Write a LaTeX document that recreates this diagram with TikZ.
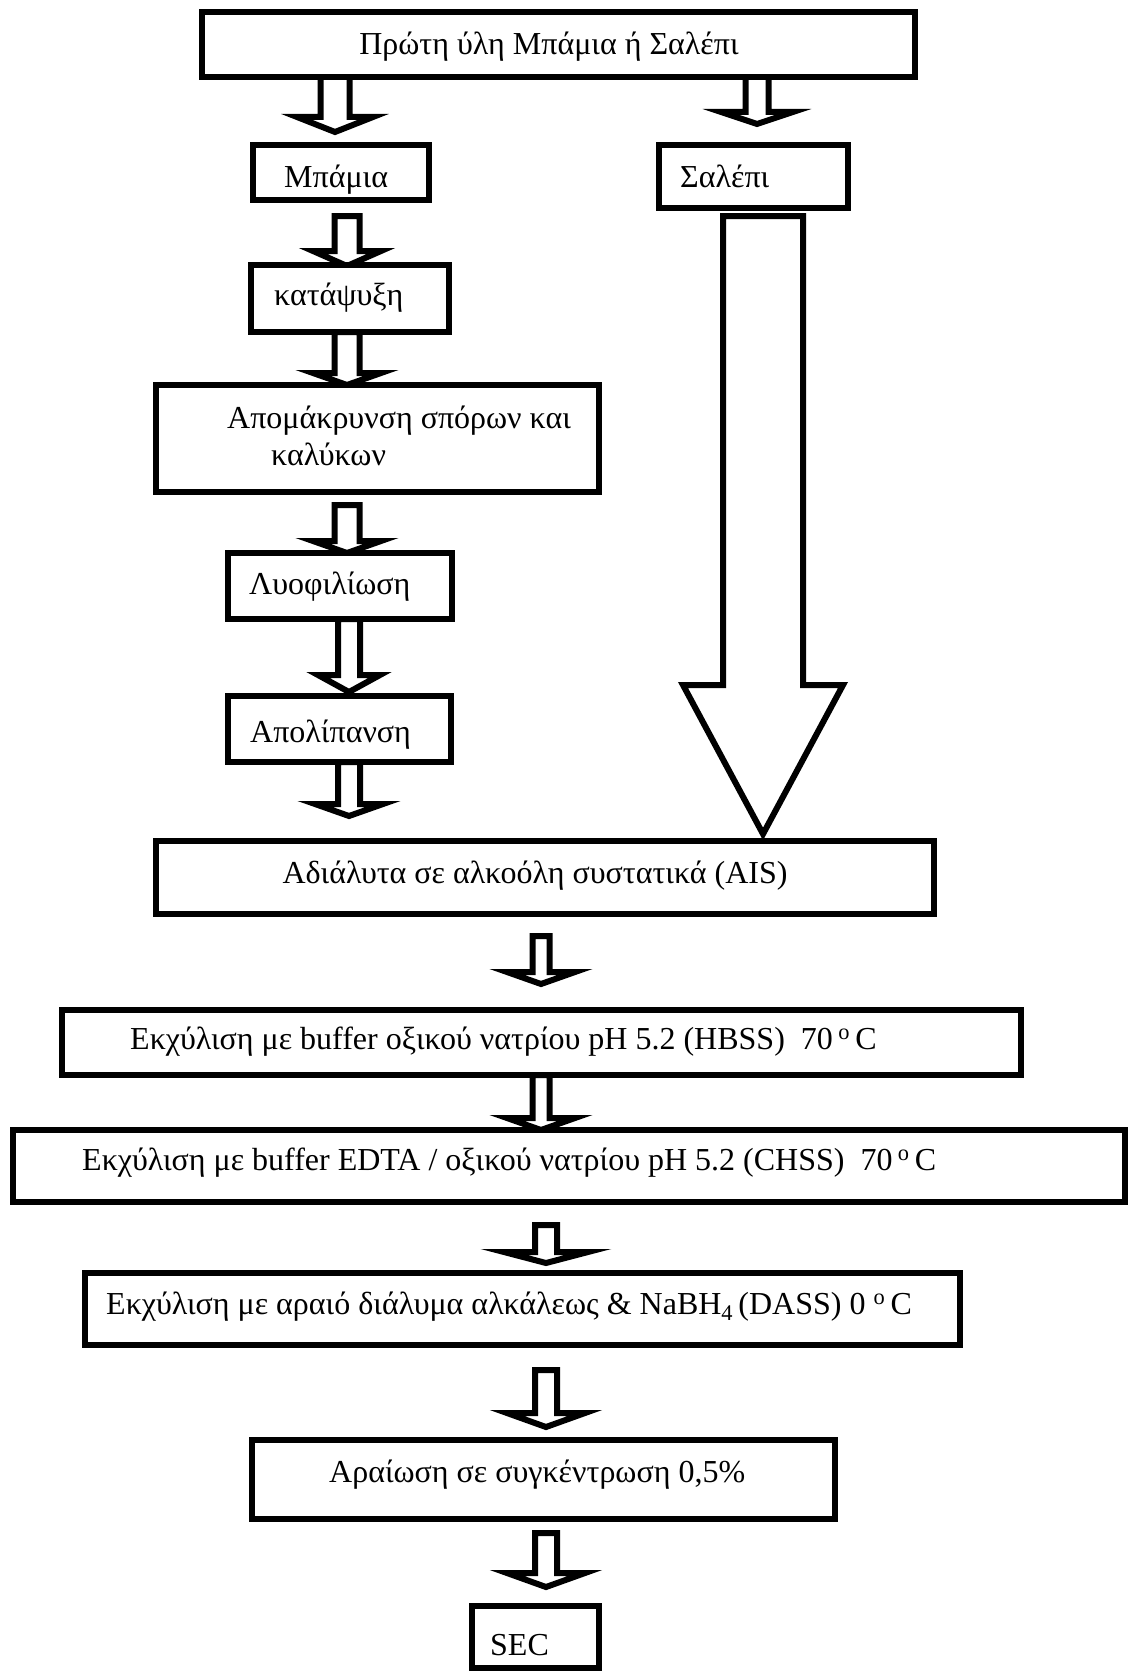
\documentclass[tikz,border=0pt]{standalone}
\usepackage{fontspec}
\setmainfont{Liberation Serif}
\usetikzlibrary{calc}
\tikzset{
  box/.style={draw, line width=6pt, rectangle, inner sep=0pt, fill=white},
  lbl/.style={inner sep=0pt, font=\fontsize{32}{37}\selectfont, anchor=base west},
  lblc/.style={inner sep=0pt, font=\fontsize{32}{37}\selectfont, anchor=base},
  barrow/.style={draw, line width=6pt, fill=white, line join=miter},
}
% #1 top coordinate, #2 tip coordinate, #3 shaft half width, #4 head half width, #5 head length
\newcommand\blockarrow[5]{%
  \draw[barrow] ($(#1)+(-#3,0)$) -- ($(#1)+(#3,0)$) -- ($(#2)+(#3,-#5)$) -- ($(#2)+(#4,-#5)$)
    -- (#2) -- ($(#2)+(-#4,-#5)$) -- ($(#2)+(-#3,-#5)$) -- cycle;}
\begin{document}
\begin{tikzpicture}[x=1pt,y=-1pt]
\fill[white] (0,0) rectangle (1128,1672);
\useasboundingbox (0,0) rectangle (1128,1672);

% arrow end points
\coordinate (a1t) at (335,77);   \coordinate (a1p) at (335,132);
\coordinate (a2t) at (757,77);   \coordinate (a2p) at (757,124);
\coordinate (a3t) at (347,216);  \coordinate (a3p) at (347,266);
\coordinate (a4t) at (347,332);  \coordinate (a4p) at (347,385);
\coordinate (a5t) at (347,505);  \coordinate (a5p) at (347,553);
\coordinate (a6t) at (349,619);  \coordinate (a6p) at (349,692);
\coordinate (a7t) at (349,762);  \coordinate (a7p) at (349,816);
\coordinate (a8t) at (763,216);  \coordinate (a8p) at (763,834);
\coordinate (a9t) at (541,936);  \coordinate (a9p) at (541,984);
\coordinate (a10t) at (541,1075); \coordinate (a10p) at (541,1130);
\coordinate (a11t) at (546,1225); \coordinate (a11p) at (546,1263);
\coordinate (a12t) at (546,1370); \coordinate (a12p) at (546,1427);
\coordinate (a13t) at (546,1533); \coordinate (a13p) at (546,1587);

% block arrows
\blockarrow{a1t}{a1p}{14.5}{38}{15}
\blockarrow{a2t}{a2p}{11.5}{36}{12}
\blockarrow{a3t}{a3p}{12.5}{34}{15}
\blockarrow{a4t}{a4p}{12.5}{34}{12}
\blockarrow{a5t}{a5p}{12.5}{34}{12}
\blockarrow{a6t}{a6p}{11}{31}{17}
\blockarrow{a7t}{a7p}{11}{34}{12}
\blockarrow{a8t}{a8p}{40}{80}{149}
\blockarrow{a9t}{a9p}{8.5}{34}{12}
\blockarrow{a10t}{a10p}{8.5}{34}{12}
\blockarrow{a11t}{a11p}{11}{42}{11}
\blockarrow{a12t}{a12p}{11}{39}{14}
\blockarrow{a13t}{a13p}{11}{39}{14}

% boxes
\node[box, minimum width=713pt, minimum height=65pt]  (b1)  at (558.5,44.5) {};
\node[box, minimum width=176pt, minimum height=55pt]  (b2)  at (341,172.5) {};
\node[box, minimum width=189pt, minimum height=63pt]  (b3)  at (753.5,176.5) {};
\node[box, minimum width=198pt, minimum height=67pt]  (b4)  at (350,298.5) {};
\node[box, minimum width=443pt, minimum height=107pt] (b5)  at (377.5,438.5) {};
\node[box, minimum width=224pt, minimum height=66pt]  (b6)  at (340,586) {};
\node[box, minimum width=223pt, minimum height=66pt]  (b7)  at (339.5,729) {};
\node[box, minimum width=778pt, minimum height=73pt]  (b8)  at (545,877.5) {};
\node[box, minimum width=959pt, minimum height=65pt]  (b9)  at (541.5,1042.5) {};
\node[box, minimum width=1112pt, minimum height=72pt] (b10) at (569,1166) {};
\node[box, minimum width=875pt, minimum height=72pt]  (b11) at (522.5,1309) {};
\node[box, minimum width=583pt, minimum height=79pt]  (b12) at (543.5,1479.5) {};
\node[box, minimum width=127pt, minimum height=62pt]  (b13) at (535.5,1637) {};

% labels
\node[lblc] (t1) at (549,55) {Πρώτη ύλη Μπάμια ή Σαλέπι};
\node[lbl] (t2) at (284,188) {Μπάμια};
\node[lbl] (t3) at (680,188) {Σαλέπι};
\node[lbl] (t4) at (274,305) {κατάψυξη};
\node[lbl] (t5a) at (227,428) {Απομάκρυνση σπόρων και};
\node[lbl] (t5b) at (271,465) {καλύκων};
\node[lbl] (t6) at (249,594) {Λυοφιλίωση};
\node[lbl] (t7) at (250,742) {Απολίπανση};
\node[lblc] (t8) at (535,883) {Αδιάλυτα σε αλκοόλη συστατικά (AIS)};
\node[lbl] (t9) at (130,1049) {Εκχύλιση με buffer οξικού νατρίου pH 5.2 (HBSS)\ \ 70\,\textsuperscript{o}\,C};
\node[lbl] (t10) at (82,1170) {Εκχύλιση με buffer EDTA / οξικού νατρίου pH 5.2 (CHSS)\ \ 70\,\textsuperscript{o}\,C};
\node[lbl] (t11) at (106,1314) {Εκχύλιση με αραιό διάλυμα αλκάλεως \& NaBH\textsubscript{4}\,(DASS) 0 \textsuperscript{o}\,C};
\node[lbl] (t12) at (329,1482) {Αραίωση σε συγκέντρωση 0,5\%};
\node[lbl] (t13) at (490,1655) {SEC};
\end{tikzpicture}
\end{document}
